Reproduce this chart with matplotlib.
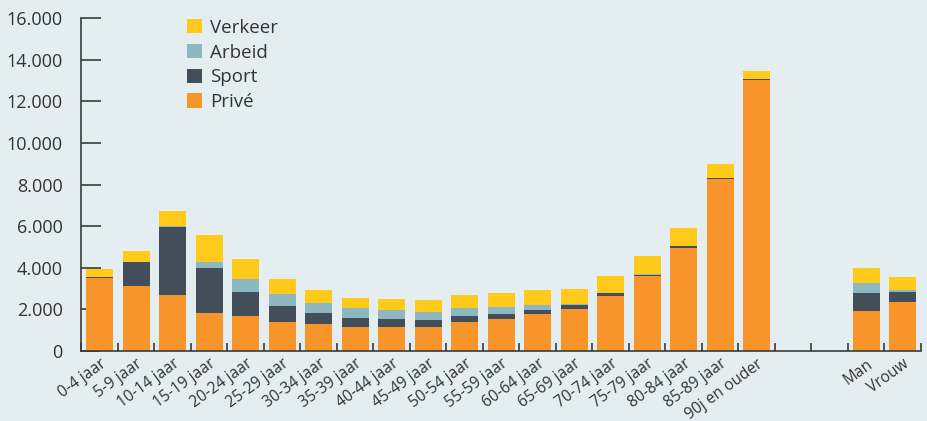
import matplotlib
matplotlib.use("Agg")
import matplotlib.pyplot as plt
from matplotlib.patches import Patch
from matplotlib.ticker import FuncFormatter
import numpy as np

plt.rcParams['font.family'] = ['Open Sans', 'DejaVu Sans']

categories = ["0-4 jaar", "5-9 jaar", "10-14 jaar", "15-19 jaar", "20-24 jaar", "25-29 jaar",
              "30-34 jaar", "35-39 jaar", "40-44 jaar", "45-49 jaar", "50-54 jaar", "55-59 jaar",
              "60-64 jaar", "65-69 jaar", "70-74 jaar", "75-79 jaar", "80-84 jaar", "85-89 jaar",
              "90j en ouder", "", "", "Man", "Vrouw"]

prive   = [3520, 3125, 2690, 1830, 1680, 1395, 1300, 1155, 1155, 1155, 1395, 1540, 1780, 2020,
           2645, 3605, 4950, 8270, 13030, 0, 0, 1925, 2355]
sport   = [40, 1155, 3270, 2160, 1155, 770, 530, 435, 385, 335, 290, 240, 190, 195,
           145, 50, 95, 50, 50, 0, 0, 865, 480]
arbeid  = [0, 0, 65, 290, 625, 575, 480, 480, 430, 385, 385, 335, 240, 50,
           0, 50, 0, 0, 0, 0, 0, 480, 95]
verkeer = [380, 530, 705, 1300, 960, 720, 625, 480, 530, 575, 625, 675, 720, 720,
           820, 865, 865, 675, 385, 0, 0, 720, 625]

series_names = ["Privé", "Sport", "Arbeid", "Verkeer"]
colors = {"Privé": "#F7942A", "Sport": "#424F5A", "Arbeid": "#8DB8C1", "Verkeer": "#FFCA1A"}
yticks = [0, 2000, 4000, 6000, 8000, 10000, 12000, 14000, 16000]

bg = "#E4EEF1"
txt = "#333333"

fig = plt.figure(figsize=(9.28, 4.21), dpi=100, facecolor=bg)
ax = fig.add_axes([81.5 / 928, 70 / 421, (921 - 81.5) / 928, (351 - 18) / 421])
ax.set_facecolor(bg)

x = np.arange(len(categories))
bottom = np.zeros(len(categories))
for name, vals in zip(series_names, [prive, sport, arbeid, verkeer]):
    v = np.array(vals, dtype=float)
    ax.bar(x, v, width=0.74, bottom=bottom, color=colors[name], linewidth=0, zorder=2)
    bottom += v

ax.set_xlim(-0.5, len(categories) - 0.5)
ax.set_ylim(0, 16000)

for s in ["top", "right"]:
    ax.spines[s].set_visible(False)
for s in ["left", "bottom"]:
    ax.spines[s].set_color("#3a3a3a")
    ax.spines[s].set_linewidth(1.2)

ax.set_yticks(yticks)
ax.yaxis.set_major_formatter(FuncFormatter(lambda v, p: f"{int(v):,}".replace(",", ".")))
ax.tick_params(axis="y", direction="in", length=14.5, width=1.2, color="#3a3a3a",
               labelsize=13, labelcolor=txt, pad=13.5)

# x ticks at boundaries between slots
ax.set_xticks(np.arange(-0.5, len(categories) + 0.5, 1.0))
ax.set_xticklabels([])
ax.tick_params(axis="x", which="major", direction="in", length=5.5, width=1.2, color="#3a3a3a")
ax.set_xticks(x, minor=True)
ax.set_xticklabels(categories, minor=True, rotation=36, ha="right", va="top",
                   rotation_mode="anchor", fontsize=11.2, color=txt)
ax.tick_params(axis="x", which="minor", length=0, pad=3.5)

handles = [Patch(facecolor=colors[n], edgecolor="none") for n in ["Verkeer", "Arbeid", "Sport", "Privé"]]
leg = ax.legend(handles, ["Verkeer", "Arbeid", "Sport", "Privé"], loc="upper left",
                bbox_to_anchor=(0.117, 1.02), frameon=False, fontsize=13.5,
                handlelength=0.8, handleheight=0.8, handletextpad=0.4, labelspacing=0.36,
                borderaxespad=0)
for t in leg.get_texts():
    t.set_color(txt)

fig.savefig("out.png", dpi=100, facecolor=bg)
